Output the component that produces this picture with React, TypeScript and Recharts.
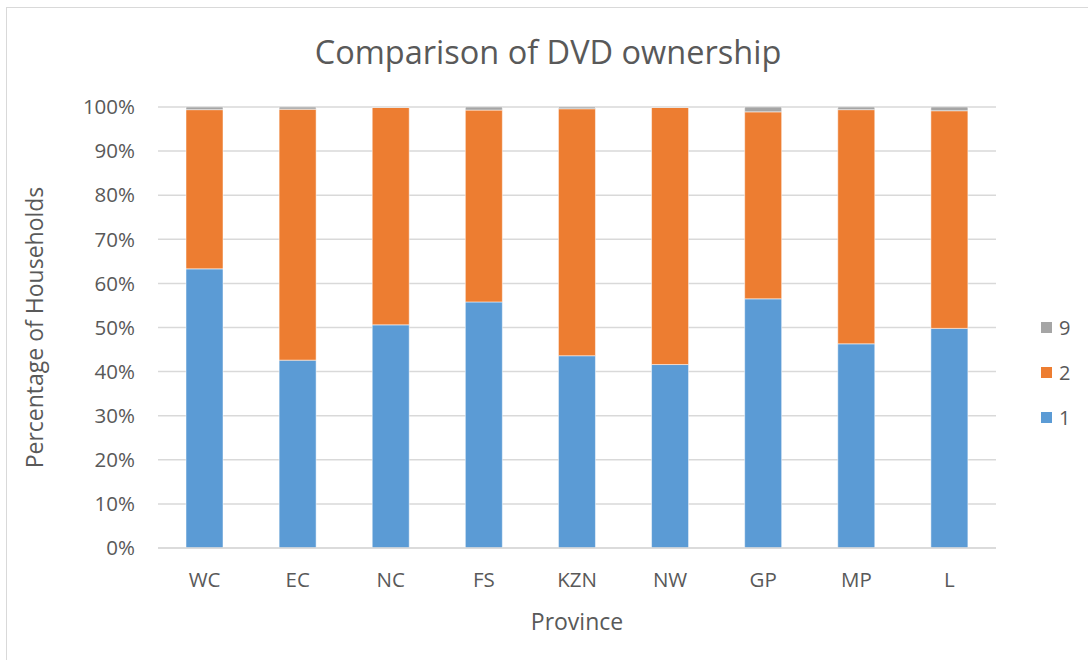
import React from 'react';
import { BarChart, Bar, XAxis, YAxis, CartesianGrid, Legend } from 'recharts';

// Share of households per province, by response code (1, 2, 9)
const provinces = ['WC', 'EC', 'NC', 'FS', 'KZN', 'NW', 'GP', 'MP', 'L'];
const code1 = [63.3, 42.6, 50.6, 55.8, 43.6, 41.6, 56.5, 46.3, 49.8];
const code2 = [36.1, 56.9, 49.3, 43.5, 56.0, 58.3, 42.4, 53.1, 49.35];
const code9 = [0.6, 0.5, 0.1, 0.7, 0.4, 0.1, 1.1, 0.6, 0.85];
const yTicks = [0, 10, 20, 30, 40, 50, 60, 70, 80, 90, 100];

const data = provinces.map((name, i) => ({
  name,
  c1: code1[i],
  c2: code2[i],
  c9: code9[i],
}));

const TEXT = '#595959';
const FONT = '"Open Sans", sans-serif';

const legendItems = [
  { label: '9', color: '#a5a5a5' },
  { label: '2', color: '#ed7d31' },
  { label: '1', color: '#5b9bd5' },
];

const LegendBox = () => (
  <div>
    {legendItems.map((it) => (
      <div key={it.label} style={{ display: 'flex', alignItems: 'center', height: 45 }}>
        <span style={{ width: 11, height: 11, background: it.color, marginRight: 7 }} />
        <span style={{ fontSize: 20, color: TEXT }}>{it.label}</span>
      </div>
    ))}
  </div>
);

const App: React.FC = () => {
  return (
    <div
      style={{
        position: 'absolute',
        left: 6,
        top: 7,
        width: 1090,
        height: 660,
        border: '1px solid #d9d9d9',
        background: '#fff',
        fontFamily: FONT,
        boxSizing: 'border-box',
      }}
    >
      <div
        style={{
          position: 'absolute',
          top: 21,
          left: 0,
          width: 1082,
          textAlign: 'center',
          fontSize: 32.5,
          color: TEXT,
        }}
      >
        Comparison of DVD ownership
      </div>
      <BarChart
        width={1082}
        height={653}
        data={data}
        barSize={37}
        margin={{ top: 99, right: 93, left: 23, bottom: 23 }}
        style={{ position: 'absolute', left: 0, top: 0 }}
      >
        <CartesianGrid vertical={false} stroke="#d9d9d9" strokeWidth={1.5} />
        <XAxis
          dataKey="name"
          height={90}
          axisLine={{ stroke: '#d9d9d9', strokeWidth: 1.5 }}
          tickLine={false}
          tickMargin={18}
          tick={{ fill: TEXT, fontSize: 20.5 }}
          label={{ value: 'Province', position: 'insideBottom', offset: 8, fill: TEXT, fontSize: 23 }}
        />
        <YAxis
          width={128}
          domain={[0, 100]}
          ticks={yTicks}
          allowDataOverflow
          axisLine={false}
          tickLine={false}
          tickSize={0}
          tickMargin={23}
          tick={{ fill: TEXT, fontSize: 20.5 }}
          tickFormatter={(v) => `${v}%`}
          label={{
            value: 'Percentage of Households',
            angle: -90,
            position: 'insideLeft',
            offset: 5,
            fill: TEXT,
            fontSize: 23,
            style: { textAnchor: 'middle' },
          }}
        />
        <Legend
          layout="vertical"
          align="center"
          verticalAlign="middle"
          content={<LegendBox />}
          wrapperStyle={{ left: 1034, top: 297, width: 'auto' }}
        />
        <Bar dataKey="c1" name="1" stackId="a" fill="#5b9bd5" stroke="#ffffff" strokeWidth={0.5} isAnimationActive={false} />
        <Bar dataKey="c2" name="2" stackId="a" fill="#ed7d31" stroke="#ffffff" strokeWidth={0.5} isAnimationActive={false} />
        <Bar dataKey="c9" name="9" stackId="a" fill="#a5a5a5" stroke="#ffffff" strokeWidth={0.5} isAnimationActive={false} />
      </BarChart>
    </div>
  );
};

export default App;
